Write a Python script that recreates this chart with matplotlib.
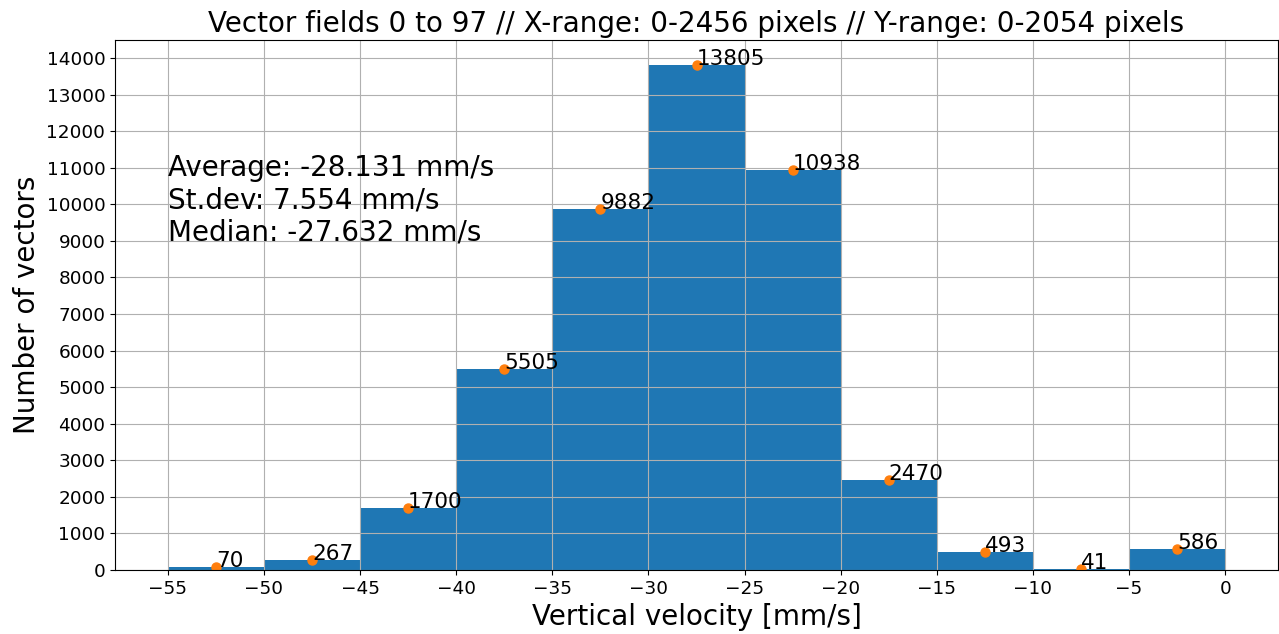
import matplotlib
matplotlib.use("Agg")
import matplotlib.pyplot as plt
import numpy as np

bin_edges = [-55, -50, -45, -40, -35, -30, -25, -20, -15, -10, -5, 0]
counts = [70, 267, 1700, 5505, 9882, 13805, 10938, 2470, 493, 41, 586]
title = "Vector fields 0 to 97 // X-range: 0-2456 pixels // Y-range: 0-2054 pixels"
stats_text = "Average: -28.131 mm/s\nSt.dev: 7.554 mm/s\nMedian: -27.632 mm/s"

fig = plt.figure(figsize=(12.79, 6.34), dpi=100)
ax = fig.add_axes([115/1279, 64/634, (1278-115)/1279, (570-40)/634])

edges = np.array(bin_edges, dtype=float)
centers = (edges[:-1] + edges[1:]) / 2
ax.bar(edges[:-1], counts, width=np.diff(edges), align='edge', color='#1f77b4')
ax.plot(centers, counts, 'o', color='#ff7f0e', markersize=6.5, linestyle='none')
for c, v in zip(centers, counts):
    ax.text(c, v, str(v), fontsize=15.5)

ax.text(-55, 9000, stats_text, fontsize=20)
ax.set_xticks(np.arange(-55, 1, 5))
ax.set_yticks(np.arange(0, 14001, 1000))
ax.tick_params(labelsize=13.3)
ax.grid(True)
ax.set_title(title, fontsize=20)
ax.set_xlabel("Vertical velocity [mm/s]", fontsize=20)
ax.set_ylabel("Number of vectors", fontsize=20)
fig.savefig("out.png", dpi=100)
